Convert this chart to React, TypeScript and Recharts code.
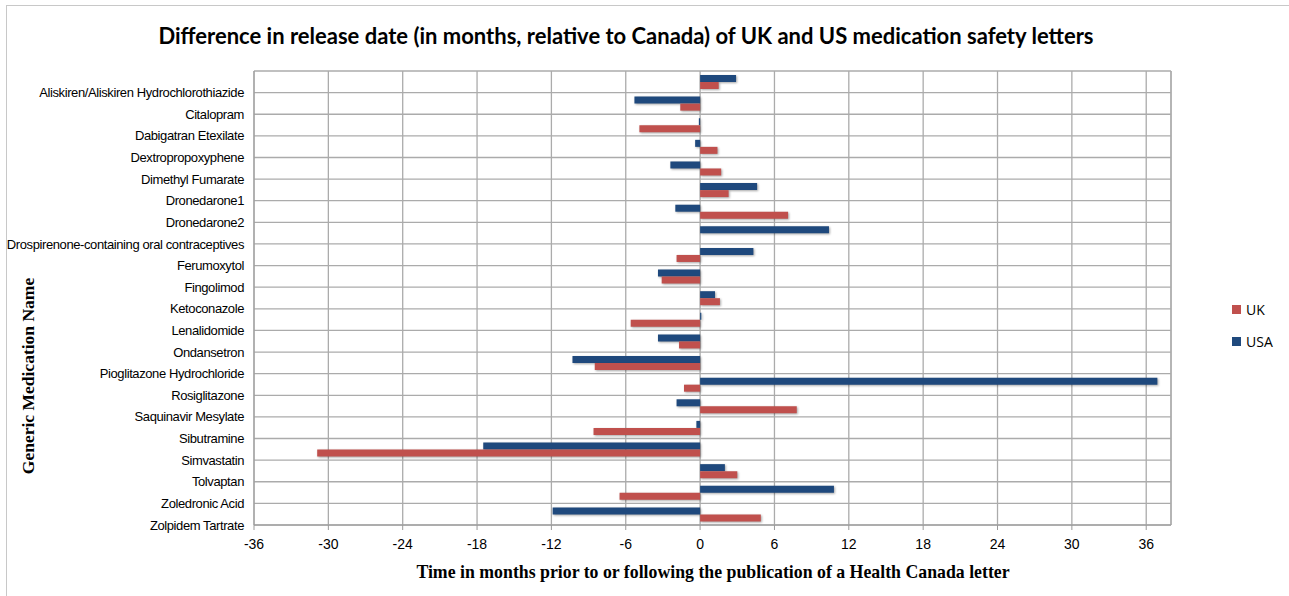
import React from "react";
import { Bar, BarChart, CartesianGrid, ReferenceLine, Rectangle, XAxis, YAxis } from "recharts";

const medications = [
  "Aliskiren/Aliskiren Hydrochlorothiazide",
  "Citalopram",
  "Dabigatran Etexilate",
  "Dextropropoxyphene",
  "Dimethyl Fumarate",
  "Dronedarone1",
  "Dronedarone2",
  "Drospirenone-containing oral contraceptives",
  "Ferumoxytol",
  "Fingolimod",
  "Ketoconazole",
  "Lenalidomide",
  "Ondansetron",
  "Pioglitazone Hydrochloride",
  "Rosiglitazone",
  "Saquinavir Mesylate",
  "Sibutramine",
  "Simvastatin",
  "Tolvaptan",
  "Zoledronic Acid",
  "Zolpidem Tartrate",
];
const usaMonths = [2.9, -5.3, -0.1, -0.4, -2.4, 4.6, -2.0, 10.4, 4.3, -3.4, 1.2, 0.1, -3.4, -10.3, 36.9, -1.9, -0.3, -17.5, 2.0, 10.8, -11.9];
const ukMonths = [1.5, -1.6, -4.9, 1.4, 1.7, 2.3, 7.1, null, -1.9, -3.1, 1.6, -5.6, -1.7, -8.5, -1.3, 7.8, -8.6, -30.9, 3.0, -6.5, 4.9];
const monthTicks = [-36, -30, -24, -18, -12, -6, 0, 6, 12, 18, 24, 30, 36];
const series = [
  { key: "UK", color: "#c0504d" },
  { key: "USA", color: "#1f497d" },
];

const rows = medications.map((name, i) => ({ name, USA: usaMonths[i], UK: ukMonths[i] }));

const W = 1289;
const H = 596;
const TOP = 71;
const BOTTOM = 525;
const LEFT = 254;
const RIGHT = 1171;
const band = (BOTTOM - TOP) / medications.length;

const narrow = "'Liberation Sans Narrow', 'Liberation Sans', Arial, sans-serif";
const serif = "'Liberation Serif', 'DejaVu Serif', serif";

const shadowBar = (props: any) => (
  <Rectangle {...props} style={{ filter: "drop-shadow(1.5px 1.5px 1.2px rgba(0,0,0,0.35))" }} />
);

function CategoryTick({ x, y, payload }: any) {
  return (
    <text x={x} y={y + band / 2} dy="0.35em" textAnchor="end" fontSize={13} fontFamily={narrow} fill="#000" letterSpacing={-0.4}>
      {payload.value}
    </text>
  );
}

export default function App() {
  return (
    <div style={{ position: "absolute", left: 0, top: 0, width: W, height: H, background: "#fff", overflow: "hidden" }}>
      <div style={{ position: "absolute", left: 6, top: 5, width: W, height: H, borderLeft: "1px solid #c8c8c8", borderTop: "1px solid #c8c8c8" }} />
      <div style={{ position: "absolute", left: 0, width: 1252, top: 22, textAlign: "center", fontFamily: "Lato, sans-serif", fontWeight: 700, fontSize: 22, color: "#000" }}>
        Difference in release date (in months, relative to Canada) of UK and US medication safety letters
      </div>
      <BarChart
        width={W}
        height={H}
        data={rows}
        layout="vertical"
        margin={{ top: TOP, right: W - RIGHT, bottom: 0, left: 0 }}
        barSize={7}
        barGap={0}
        style={{ position: "absolute", left: 0, top: 0 }}
      >
        <CartesianGrid
          stroke="#ababab"
          strokeWidth={1.3}
          horizontalCoordinatesGenerator={({ offset }: any) =>
            medications.map((_, i) => offset.top + i * (offset.height / medications.length)).concat([offset.top + offset.height])
          }
        />
        <XAxis
          type="number"
          domain={[-36, 38]}
          ticks={monthTicks}
          interval={0}
          height={H - BOTTOM}
          tickSize={5}
          tickMargin={9}
          stroke="#9a9a9a"
          tick={{ fontSize: 14, fontFamily: narrow, fill: "#000" }}
          allowDataOverflow
        />
        <YAxis
          type="category"
          dataKey="name"
          width={LEFT}
          interval={0}
          tickLine={false}
          tickSize={0}
          tickMargin={10}
          stroke="#9a9a9a"
          tick={<CategoryTick />}
        />
        <ReferenceLine x={38} stroke="#ababab" strokeWidth={1.3} />
        <Bar dataKey="USA" fill="#1f497d" isAnimationActive={false} shape={shadowBar} />
        <Bar dataKey="UK" fill="#c0504d" isAnimationActive={false} shape={shadowBar} />
      </BarChart>
      <div
        style={{
          position: "absolute",
          left: 28,
          top: 376,
          transform: "translate(-50%, -50%) rotate(-90deg)",
          whiteSpace: "nowrap",
          fontFamily: serif,
          fontWeight: 700,
          fontSize: 17.5,
          color: "#000",
        }}
      >
        Generic Medication Name
      </div>
      <div
        style={{
          position: "absolute",
          left: 713,
          top: 572,
          transform: "translate(-50%, -50%)",
          whiteSpace: "nowrap",
          fontFamily: serif,
          fontWeight: 700,
          fontSize: 17.8,
          color: "#000",
        }}
      >
        Time in months prior to or following the publication of a Health Canada letter
      </div>
      {series.map((s, i) => (
        <div key={s.key} style={{ position: "absolute", left: 1232, top: 300 + i * 31.5, display: "flex", alignItems: "center", fontFamily: "'Open Sans', sans-serif", fontSize: 14 }}>
          <span style={{ width: 9, height: 9, background: s.color, display: "inline-block", marginRight: 5 }} />
          {s.key}
        </div>
      ))}
    </div>
  );
}
